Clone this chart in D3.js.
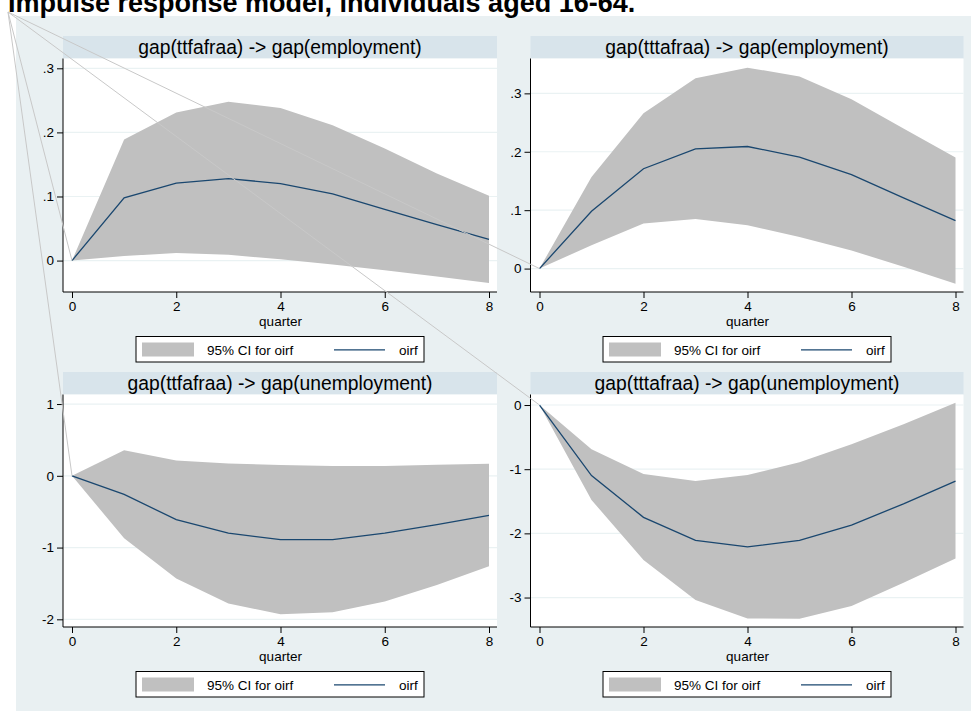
<!DOCTYPE html>
<html>
<head>
<meta charset="utf-8">
<script src="https://cdn.jsdelivr.net/npm/d3@7"></script>
<style>
  html, body { margin: 0; padding: 0; background: #ffffff; }
  svg { display: block; font-family: "Liberation Sans", Arial, Helvetica, sans-serif; }
</style>
</head>
<body>
<svg id="chart" width="971" height="711"></svg>
<script>
// ---------------- DATA ----------------
const mainTitle = "Impulse response model, individuals aged 16-64.";
const quarters = [0, 1, 2, 3, 4, 5, 6, 7, 8];
const panelTitles = [
  "gap(ttfafraa) -> gap(employment)",
  "gap(tttafraa) -> gap(employment)",
  "gap(ttfafraa) -> gap(unemployment)",
  "gap(tttafraa) -> gap(unemployment)"
];
const xTicks = [0, 2, 4, 6, 8];
const xLabel = "quarter";
const legendLabels = ["95% CI for oirf", "oirf"];

// panel 1: ttfafraa -> employment
const emp1Oirf  = [0, 0.098, 0.121, 0.128, 0.120, 0.104, 0.080, 0.056, 0.033];
const emp1Lower = [0, 0.007, 0.012, 0.009, 0.002, -0.006, -0.015, -0.025, -0.035];
const emp1Upper = [0, 0.189, 0.231, 0.248, 0.238, 0.211, 0.175, 0.136, 0.101];
const emp1Ticks = [0, 0.1, 0.2, 0.3];

// panel 2: tttafraa -> employment
const emp2Oirf  = [0, 0.098, 0.171, 0.205, 0.209, 0.191, 0.161, 0.121, 0.082];
const emp2Lower = [0, 0.040, 0.077, 0.085, 0.074, 0.054, 0.031, 0.003, -0.026];
const emp2Upper = [0, 0.157, 0.266, 0.326, 0.344, 0.329, 0.290, 0.240, 0.190];
const emp2Ticks = [0, 0.1, 0.2, 0.3];

// panel 3: ttfafraa -> unemployment
const unemp1Oirf  = [0, -0.26, -0.61, -0.80, -0.89, -0.89, -0.80, -0.68, -0.55];
const unemp1Lower = [0, -0.87, -1.43, -1.78, -1.93, -1.90, -1.75, -1.52, -1.26];
const unemp1Upper = [0, 0.355, 0.215, 0.173, 0.150, 0.135, 0.135, 0.154, 0.168];
const unemp1Ticks = [-2, -1, 0, 1];

// panel 4: tttafraa -> unemployment
const unemp2Oirf  = [0, -1.10, -1.75, -2.11, -2.21, -2.11, -1.87, -1.54, -1.185];
const unemp2Lower = [0, -1.48, -2.415, -3.04, -3.325, -3.33, -3.13, -2.77, -2.39];
const unemp2Upper = [0, -0.69, -1.075, -1.185, -1.09, -0.89, -0.61, -0.30, 0.035];
const unemp2Ticks = [-3, -2, -1, 0];

// ---------------- LAYOUT / STYLE ----------------
const colors = {
  outer: "#e9f0f2",
  strip: "#d8e4eb",
  plot: "#ffffff",
  grid: "#eaf2f3",
  band: "#c0c0c0",
  line: "#1a476f",
  stray: "#c8c8c8",
  text: "#000000"
};

const panels = [
  { title: panelTitles[0], oirf: emp1Oirf, lower: emp1Lower, upper: emp1Upper, ticks: emp1Ticks,
    x0: 63, x1: 497, top: 36, bottom: 292, yDom: [-0.049, 0.3153] },
  { title: panelTitles[1], oirf: emp2Oirf, lower: emp2Lower, upper: emp2Upper, ticks: emp2Ticks,
    x0: 530.5, x1: 963.5, top: 36, bottom: 292, yDom: [-0.0401, 0.3597] },
  { title: panelTitles[2], oirf: unemp1Oirf, lower: unemp1Lower, upper: unemp1Upper, ticks: unemp1Ticks,
    x0: 63, x1: 497, top: 372, bottom: 627, yDom: [-2.107, 1.133] },
  { title: panelTitles[3], oirf: unemp2Oirf, lower: unemp2Lower, upper: unemp2Upper, ticks: unemp2Ticks,
    x0: 530.5, x1: 963.5, top: 372, bottom: 627, yDom: [-3.459, 0.164] }
];
const stripH = 22.5;

const svg = d3.select("#chart");

// outer background
svg.append("rect").attr("x", 16).attr("y", 16).attr("width", 971 - 16).attr("height", 711 - 16)
  .attr("fill", colors.outer);

// main title (cropped at the top edge, as in the original picture)
svg.append("text").attr("x", 8).attr("y", 12)
  .attr("font-size", 27).attr("font-weight", "bold").attr("fill", colors.text)
  .text(mainTitle);

function fmtY(d) {
  if (d === 0) return "0";
  if (Math.abs(d) < 1) {
    const s = d3.format(".1f")(d);
    return s.replace("0.", ".");
  }
  return String(d);
}

const origins = [];

panels.forEach(p => {
  const g = svg.append("g");
  const plotTop = p.top + stripH;
  const x = d3.scaleLinear().domain([0, 8]).range([p.x0 + 9, p.x1 - 8]);
  const y = d3.scaleLinear().domain(p.yDom).range([p.bottom, plotTop]);

  // strip
  g.append("rect").attr("x", p.x0).attr("y", p.top).attr("width", p.x1 - p.x0).attr("height", stripH)
    .attr("fill", colors.strip);
  g.append("text").attr("x", (p.x0 + p.x1) / 2).attr("y", p.top + stripH / 2 + 6.8)
    .attr("text-anchor", "middle").attr("font-size", 19.3).attr("fill", colors.text)
    .text(p.title);

  // plot region
  g.append("rect").attr("x", p.x0).attr("y", plotTop).attr("width", p.x1 - p.x0).attr("height", p.bottom - plotTop)
    .attr("fill", colors.plot);

  // gridlines
  g.selectAll("line.grid").data(p.ticks).enter().append("line")
    .attr("x1", p.x0).attr("x2", p.x1)
    .attr("y1", d => y(d)).attr("y2", d => y(d))
    .attr("stroke", colors.grid).attr("stroke-width", 1.2);

  // CI band
  const area = d3.area()
    .x((d, i) => x(quarters[i]))
    .y0((d, i) => y(p.lower[i]))
    .y1((d, i) => y(p.upper[i]));
  g.append("path").datum(quarters).attr("d", area).attr("fill", colors.band);

  // oirf line
  const line = d3.line().x((d, i) => x(quarters[i])).y((d, i) => y(p.oirf[i]));
  g.append("path").datum(quarters).attr("d", line)
    .attr("fill", "none").attr("stroke", colors.line).attr("stroke-width", 1.3);

  // axes lines
  g.append("line").attr("x1", p.x0).attr("x2", p.x0).attr("y1", plotTop).attr("y2", p.bottom)
    .attr("stroke", "#000").attr("stroke-width", 1);
  g.append("line").attr("x1", p.x0).attr("x2", p.x1).attr("y1", p.bottom).attr("y2", p.bottom)
    .attr("stroke", "#000").attr("stroke-width", 1);

  // y axis
  const yAxis = d3.axisLeft(y).tickValues(p.ticks).tickFormat(fmtY).tickSize(6).tickPadding(3);
  const ya = g.append("g").attr("transform", `translate(${p.x0},0)`).call(yAxis);
  ya.select(".domain").remove();
  ya.attr("font-size", 13.5).attr("font-family", null);
  ya.selectAll("text").attr("fill", colors.text);
  ya.selectAll("line").attr("stroke", "#000");

  // x axis
  const xAxis = d3.axisBottom(x).tickValues(xTicks).tickFormat(d3.format("d")).tickSize(6).tickPadding(3);
  const xa = g.append("g").attr("transform", `translate(0,${p.bottom})`).call(xAxis);
  xa.select(".domain").remove();
  xa.attr("font-size", 13.5).attr("font-family", null);
  xa.selectAll("text").attr("fill", colors.text);
  xa.selectAll("line").attr("stroke", "#000");

  // x label
  g.append("text").attr("x", x(4)).attr("y", p.bottom + 34)
    .attr("text-anchor", "middle").attr("font-size", 13.5).attr("fill", colors.text)
    .text(xLabel);

  // legend
  const lw = 288, lh = 25.5;
  const lx = (p.x0 + p.x1) / 2 - lw / 2;
  const ly = p.bottom + 44.5;
  const lg = g.append("g").attr("transform", `translate(${lx},${ly})`);
  lg.append("rect").attr("x", 0).attr("y", 0).attr("width", lw).attr("height", lh)
    .attr("fill", "#ffffff").attr("stroke", "#000").attr("stroke-width", 1);
  lg.append("rect").attr("x", 6).attr("y", 6).attr("width", 52).attr("height", 14)
    .attr("fill", colors.band);
  lg.append("text").attr("x", 71).attr("y", 18).attr("font-size", 13.5).attr("fill", colors.text)
    .text(legendLabels[0]);
  lg.append("line").attr("x1", 198).attr("x2", 249).attr("y1", 13.3).attr("y2", 13.3)
    .attr("stroke", colors.line).attr("stroke-width", 1.3);
  lg.append("text").attr("x", 263).attr("y", 18).attr("font-size", 13.5).attr("fill", colors.text)
    .text(legendLabels[1]);

  origins.push([x(0), y(0)]);
});

// stray connector lines from the top-left corner to each panel's origin
const strayStart = [8, 12];
svg.selectAll("line.stray").data(origins).enter().append("line")
  .attr("x1", strayStart[0]).attr("y1", strayStart[1])
  .attr("x2", d => d[0]).attr("y2", d => d[1])
  .attr("stroke", colors.stray).attr("stroke-width", 1);
</script>
</body>
</html>
